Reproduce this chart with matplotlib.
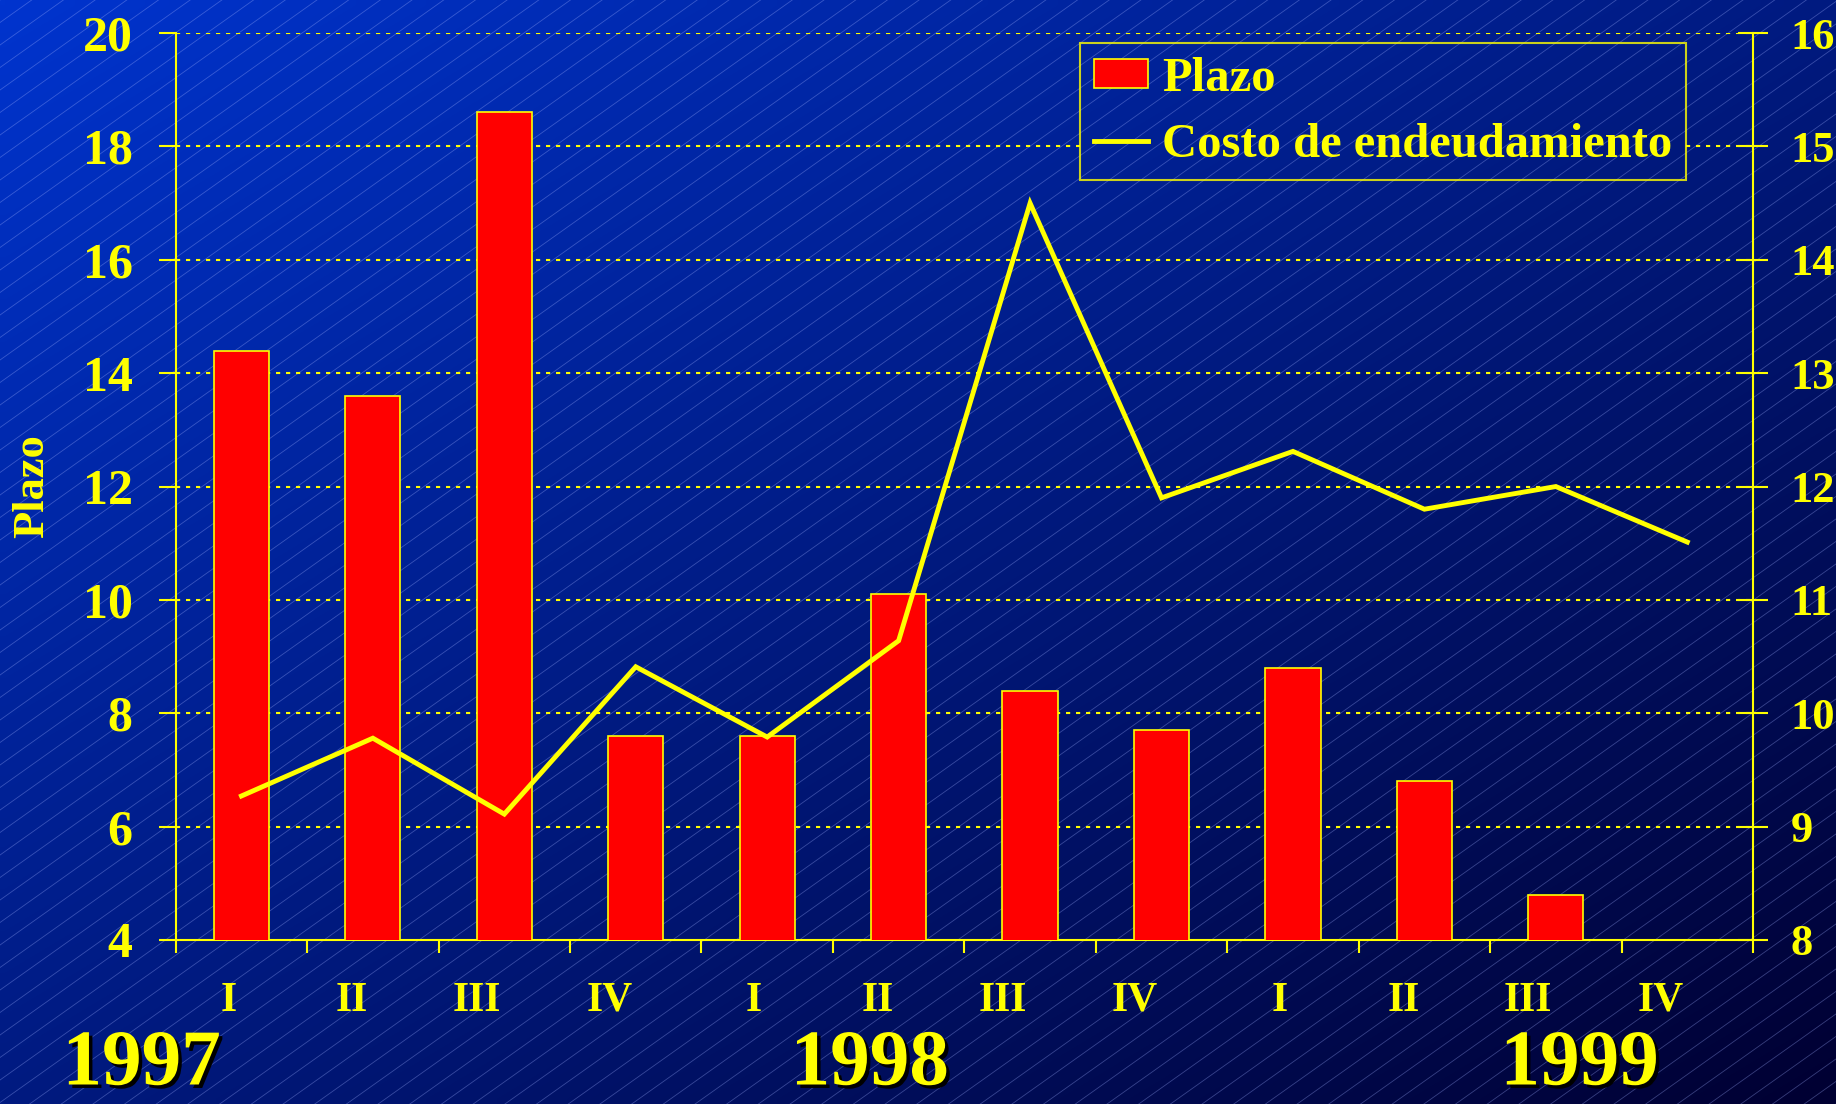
import numpy as np
import matplotlib
matplotlib.use("Agg")
import matplotlib.pyplot as plt
import matplotlib.patheffects as pe
from matplotlib.path import Path
from matplotlib.transforms import blended_transform_factory, IdentityTransform

# data
quarters = ["I", "II", "III", "IV"] * 3
years = ["1997", "1998", "1999"]
plazo = [14.4, 13.6, 18.6, 7.6, 7.6, 10.1, 8.4, 7.7, 8.8, 6.8, 4.8, np.nan]
costo = [9.27, 9.78, 9.11, 10.41, 9.79, 10.64, 14.5, 11.9, 12.31, 11.8, 12.0, 11.51]

YEL = "#FFFF00"
FONT = "Liberation Serif"
W, H = 1836, 1104

fig = plt.figure(figsize=(W / 100, H / 100), dpi=100)

# background: diagonal blue gradient + thin diagonal lines
bg = fig.add_axes([0, 0, 1, 1], zorder=-10)
gx, gy = np.meshgrid(np.linspace(0, 1, 184), np.linspace(0, 1, 111))
t = (gx + gy) / 2
c0 = np.array([0, 52, 206]) / 255
c1 = np.array([0, 0, 50]) / 255
img = c0[None, None, :] * (1 - t[..., None]) + c1[None, None, :] * t[..., None]
bg.imshow(img, extent=(0, W, H, 0), aspect="auto", interpolation="bilinear")
xs = np.array([0, W])
for c in np.arange(0, H + 0.71 * W + 30, 22.5):
    bg.plot(xs, c - 0.71 * xs, color="#a0b0ff", lw=0.6, alpha=0.35)
bg.set_xlim(0, W)
bg.set_ylim(H, 0)
bg.axis("off")

ax = fig.add_axes([0.0957, 0.1486, 0.8591, 0.8214])
ax.set_facecolor("none")
x = np.arange(len(plazo))
bars = ax.bar(x, plazo, bottom=0, width=0.42, color="#FF0000",
              edgecolor=YEL, linewidth=1.2, label="Plazo", zorder=3)
ax.set_xlim(-0.5, 11.5)
ax.set_ylim(4, 20)
yt = np.arange(4, 21, 2)
ax.set_yticks(yt)
ax.set_xticks(np.arange(-0.5, 12, 1))
ax.set_xticklabels([])
# dotted gridlines drawn by hand so they can be hidden under the legend
grid = [ax.axhline(v, color=YEL, linestyle=(0, (2, 2.8)), linewidth=1.5,
                   zorder=1) for v in yt[1:]]

ax2 = ax.twinx()
ax2.set_facecolor("none")
ln, = ax2.plot(x, costo, color=YEL, lw=3.5, label="Costo de endeudamiento",
               solid_joinstyle="miter")
ax2.set_ylim(8, 16)
ax2.set_yticks(np.arange(8, 17, 1))

for a in (ax, ax2):
    for s in a.spines.values():
        s.set_color(YEL)
        s.set_linewidth(1.5)
    a.spines["top"].set_visible(False)
ax.spines["right"].set_visible(False)
ax2.spines["left"].set_visible(False)
ax2.spines["bottom"].set_visible(False)

ax.tick_params(axis="y", direction="out", length=12, width=1.5, color=YEL,
               labelcolor=YEL, labelsize=36, pad=19)
ax.tick_params(axis="x", direction="out", length=9, width=1.5, color=YEL)
ax2.tick_params(axis="y", direction="inout", length=22, width=1.5, color=YEL,
                labelcolor=YEL, labelsize=32, pad=16)
for lab in ax.get_yticklabels() + ax2.get_yticklabels():
    lab.set_fontfamily(FONT)
    lab.set_fontweight("bold")

ax.set_ylabel("Plazo", color=YEL, fontsize=32, fontfamily=FONT,
              fontweight="bold")
ax.yaxis.set_label_coords(-0.078, 0.5)

# quarter labels under each bar, years below
tr = blended_transform_factory(ax.transData, ax.transAxes)
shift = {"I": -0.10, "II": -0.16, "III": -0.21, "IV": -0.20}
for i, q in enumerate(quarters):
    ax.text(i + shift[q], -0.067, q, transform=tr, ha="center", va="center",
            color=YEL, fontsize=30, fontfamily=FONT, fontweight="bold")
year_x = [-0.76, 4.78, 10.18]
for yx, yr in zip(year_x, years):
    ax.text(yx, -0.139, yr, transform=tr, ha="center", va="center",
            color=YEL, fontsize=57, fontfamily=FONT, fontweight="bold",
            path_effects=[pe.withSimplePatchShadow(offset=(2.5, -2.5),
                                                   shadow_rgbFace="black",
                                                   alpha=1)])

leg = ax2.legend([bars, ln], ["Plazo", "Costo de endeudamiento"],
                 loc="upper right", bbox_to_anchor=(0.9575, 0.989),
                 borderaxespad=0, frameon=True, fancybox=False,
                 handlelength=1.1, handleheight=0.55, handletextpad=0.3,
                 labelspacing=0.45, borderpad=0.28,
                 prop={"family": FONT, "weight": "bold", "size": 35})
leg.get_frame().set_facecolor("none")
leg.get_frame().set_edgecolor(YEL)
leg.get_frame().set_linewidth(1.5)
for txt in leg.get_texts():
    txt.set_color(YEL)

# clip the gridlines with a hole where the legend box is
fig.canvas.draw()
ab = ax.get_window_extent()
lb = leg.get_frame().get_window_extent()
verts = [(ab.x0, ab.y0), (ab.x1, ab.y0), (ab.x1, ab.y1), (ab.x0, ab.y1), (0, 0),
         (lb.x0, lb.y0), (lb.x0, lb.y1), (lb.x1, lb.y1), (lb.x1, lb.y0), (0, 0)]
codes = [Path.MOVETO, Path.LINETO, Path.LINETO, Path.LINETO, Path.CLOSEPOLY] * 2
hole = Path(verts, codes)
for g in grid:
    g.set_clip_path(hole, IdentityTransform())

fig.savefig("out.png", dpi=100)
